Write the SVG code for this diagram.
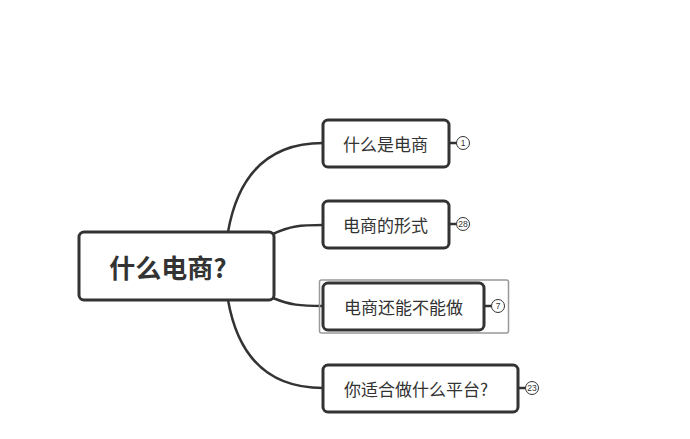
<svg xmlns="http://www.w3.org/2000/svg" width="690" height="439" viewBox="0 0 690 439">
<style>
.node{fill:#fff;stroke:#333;stroke-width:3}
.conn{fill:none;stroke:#333;stroke-width:2.5}
.t{font-family:"Noto Sans CJK SC","Liberation Sans",sans-serif;fill:#333;text-anchor:middle;dominant-baseline:central}
.badge{fill:#fff;stroke:#333;stroke-width:1}
.bt{font-family:"Liberation Sans",sans-serif;font-size:8.5px;fill:#333;text-anchor:middle;dominant-baseline:central}
</style>
<rect width="690" height="439" fill="#fff"/>
<g id="connectors">
<path class="conn" d="M228,232 C238,175 268,143 323,143"/>
<path class="conn" d="M273,234 C290,226 300,225 323,225"/>
<path class="conn" d="M273,298 C290,305 300,306 323,306"/>
<path class="conn" d="M228,300 C238,357 268,388 323,388"/>
<path class="conn" d="M449,143 H456.5 M449,224 H456.5 M484,306 H491.5 M518,388 H525.5" stroke-width="1.2"/>
</g>
<g id="root">
<rect class="node" x="79" y="232" width="195" height="68" rx="5"/>
<text class="t" x="168" y="266" font-size="26" font-weight="bold">什么电商?</text>
</g>
<g id="n1">
<rect class="node" x="323" y="120" width="126" height="47" rx="5"/>
<text class="t" x="385.5" y="143" font-size="17">什么是电商</text>
<circle class="badge" cx="463" cy="143" r="6.5"/>
<text class="bt" x="463" y="143">1</text>
</g>
<g id="n2">
<rect class="node" x="323" y="201" width="126" height="47" rx="5"/>
<text class="t" x="385.5" y="224" font-size="17">电商的形式</text>
<circle class="badge" cx="463" cy="224" r="6.5"/>
<text class="bt" x="463" y="224">28</text>
</g>
<g id="n3">
<rect x="319.5" y="280" width="189" height="53" rx="2" fill="none" stroke="#999" stroke-width="1.5"/>
<rect class="node" x="323" y="283" width="161" height="47" rx="5"/>
<text class="t" x="403.5" y="306" font-size="17">电商还能不能做</text>
<circle class="badge" cx="498" cy="306" r="6.5"/>
<text class="bt" x="498" y="306">7</text>
</g>
<g id="n4">
<rect class="node" x="323" y="365" width="195" height="47" rx="5"/>
<text class="t" x="416" y="388" font-size="17">你适合做什么平台?</text>
<circle class="badge" cx="532" cy="388" r="6.5"/>
<text class="bt" x="532" y="388">23</text>
</g>
</svg>
